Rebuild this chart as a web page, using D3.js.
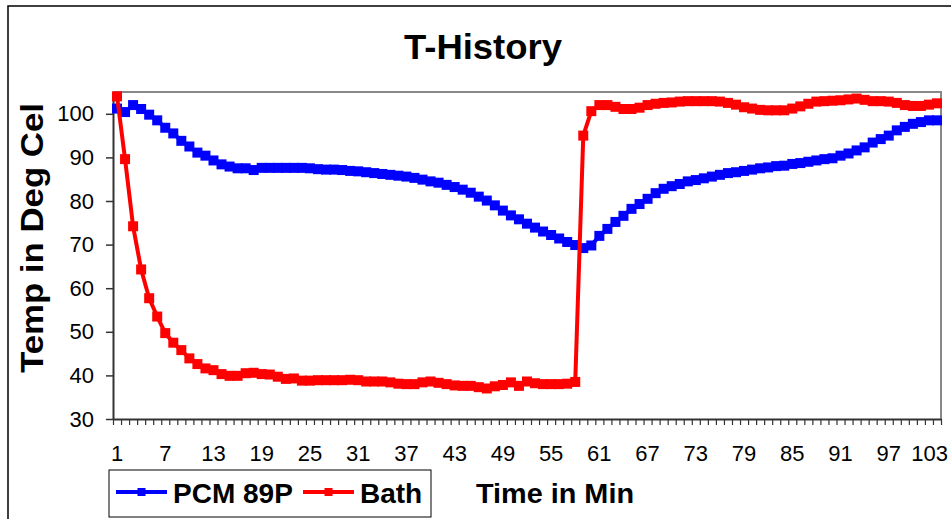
<!DOCTYPE html>
<html>
<head>
<meta charset="utf-8">
<script src="https://cdn.jsdelivr.net/npm/d3@7"></script>
<style>
  body { margin: 0; background: #fff; }
  text { font-family: "Liberation Sans", Arial, sans-serif; }
</style>
</head>
<body>
<div id="chart"></div>
<script>
// minutes 1..103
const minutes = d3.range(1, 104)

const pcm89p = [
  101.2, 100.4, 102.0, 101.1, 99.8, 98.5, 96.8, 95.5, 93.8, 92.5,
  91.1, 90.4, 89.3, 88.4, 87.9, 87.5, 87.5, 87.1, 87.6, 87.6,
  87.6, 87.6, 87.6, 87.6, 87.5, 87.3, 87.2, 87.2, 87.1, 86.9,
  86.8, 86.6, 86.4, 86.2, 86.0, 85.8, 85.6, 85.3, 84.9, 84.5,
  84.2, 83.7, 83.2, 82.6, 81.9, 81.0, 80.1, 79.0, 77.8, 76.7,
  75.8, 74.8, 73.9, 73.0, 72.2, 71.4, 70.6, 69.9, 69.2, 69.8,
  72.0, 73.6, 75.2, 76.6, 78.2, 79.3, 80.5, 81.8, 82.8, 83.4,
  83.9, 84.5, 84.8, 85.2, 85.6, 86.0, 86.4, 86.6, 86.9, 87.2,
  87.5, 87.7, 88.0, 88.1, 88.5, 88.7, 89.0, 89.3, 89.6, 89.8,
  90.4, 90.9, 91.6, 92.3, 93.4, 94.2, 95.0, 96.2, 97.0, 97.7,
  98.1, 98.5, 98.5
]

const bath = [
  104.0, 89.6, 74.2, 64.3, 57.7, 53.5, 49.7, 47.5, 45.8, 43.9,
  42.6, 41.6, 41.2, 40.3, 39.9, 39.9, 40.5, 40.6, 40.3, 40.2,
  39.7, 39.2, 39.3, 38.8, 38.8, 38.9, 38.9, 38.9, 38.9, 39.0,
  38.9, 38.6, 38.6, 38.6, 38.4, 38.1, 38.0, 38.0, 38.4, 38.6,
  38.3, 38.0, 37.7, 37.6, 37.6, 37.3, 37.0, 37.5, 37.8, 38.4,
  37.6, 38.6, 38.2, 38.0, 38.0, 38.0, 38.1, 38.5, 95.0, 100.6,
  102.0, 102.0, 101.6, 101.1, 101.1, 101.4, 102.0, 102.3, 102.5, 102.6,
  102.8, 102.9, 102.9, 102.9, 102.9, 102.8, 102.5, 102.1, 101.5, 101.2,
  100.9, 100.8, 100.8, 100.8, 101.2, 101.7, 102.3, 102.8, 102.9, 103.0,
  103.1, 103.3, 103.5, 103.2, 102.9, 102.9, 102.8, 102.5, 102.0, 101.8,
  101.8, 102.1, 102.4
]

const yTicks = [30, 40, 50, 60, 70, 80, 90, 100]
const xTickLabels = d3.range(1, 104, 6)

const series = [
  {name: 'PCM 89P', color: '#0000ff', values: pcm89p},
  {name: 'Bath', color: '#ff0000', values: bath}
]

const W = 951, H = 519
const plot = {left: 113, right: 941, top: 92, bottom: 419}

const svg = d3.select('#chart')
  .append('svg')
  .attr('width', W)
  .attr('height', H)

// outer chart frame (runs off the right / bottom edge)
svg.append('rect')
  .attr('x', 8).attr('y', 6)
  .attr('width', 960).attr('height', 530)
  .attr('fill', 'none')
  .attr('stroke', '#000')
  .attr('stroke-width', 1.5)

const x = d3.scaleBand()
  .domain(minutes)
  .range([plot.left, plot.right])

const xEdge = d3.scaleLinear()
  .domain([0.5, 103.5])
  .range([plot.left, plot.right])

const y = d3.scaleLinear()
  .domain([30, 105])
  .range([plot.bottom, plot.top])

// plot area border, top and right in grey
svg.append('path')
  .attr('d', `M${plot.left},${plot.top}H${plot.right}V${plot.bottom}`)
  .attr('fill', 'none')
  .attr('stroke', '#888')
  .attr('stroke-width', 2)

// y axis
const yAxis = svg.append('g')
  .attr('transform', `translate(${plot.left},0)`)
  .call(d3.axisLeft(y).tickValues(yTicks).tickSize(7).tickPadding(12).tickSizeOuter(0))
yAxis.select('.domain').attr('stroke', '#333').attr('stroke-width', 2)
yAxis.selectAll('.tick line').attr('stroke', '#333').attr('stroke-width', 1.5)
yAxis.selectAll('text')
  .style('font-size', '22px')
  .attr('fill', '#000')

// x axis minor ticks at category boundaries
const xMinor = svg.append('g')
  .attr('transform', `translate(0,${plot.bottom})`)
  .call(d3.axisBottom(xEdge).tickValues(d3.range(0.5, 104, 1)).tickSize(6).tickFormat('').tickSizeOuter(0))
xMinor.select('.domain').attr('stroke', '#333').attr('stroke-width', 2)
xMinor.selectAll('.tick line').attr('stroke', '#333').attr('stroke-width', 1.2)

// x labels on category centres
const xLabels = svg.append('g')
  .attr('transform', `translate(0,${plot.bottom})`)
  .call(d3.axisBottom(x).tickValues(xTickLabels).tickSize(0).tickPadding(26))
xLabels.select('.domain').remove()
xLabels.selectAll('text')
  .style('font-size', '22px')
  .attr('fill', '#000')
  .attr('text-anchor', d => d === 103 ? 'end' : 'middle')
  .attr('dx', d => d === 103 ? 11 : 0)

// series
const cx = i => x(minutes[i]) + x.bandwidth() / 2

series.forEach(s => {
  const line = d3.line()
    .x((d, i) => cx(i))
    .y(d => y(d))

  svg.append('path')
    .datum(s.values)
    .attr('fill', 'none')
    .attr('stroke', s.color)
    .attr('stroke-width', 4)
    .attr('stroke-linejoin', 'round')
    .attr('d', line)

  svg.append('g')
    .selectAll('rect')
    .data(s.values)
    .join('rect')
    .attr('x', (d, i) => cx(i) - 5)
    .attr('y', d => y(d) - 5)
    .attr('width', 10)
    .attr('height', 10)
    .attr('fill', s.color)
})

// title and axis titles
svg.append('text')
  .attr('x', 404).attr('y', 59)
  .attr('textLength', 158)
  .attr('lengthAdjust', 'spacingAndGlyphs')
  .style('font-size', '35px')
  .style('font-weight', 'bold')
  .text('T-History')

svg.append('text')
  .attr('transform', 'translate(43,373) rotate(-90)')
  .attr('textLength', 270)
  .attr('lengthAdjust', 'spacingAndGlyphs')
  .style('font-size', '31px')
  .style('font-weight', 'bold')
  .text('Temp in Deg Cel')

svg.append('text')
  .attr('x', 476).attr('y', 503)
  .attr('textLength', 158)
  .attr('lengthAdjust', 'spacingAndGlyphs')
  .style('font-size', '28px')
  .style('font-weight', 'bold')
  .text('Time in Min')

// legend
const legend = svg.append('g')
legend.append('rect')
  .attr('x', 109).attr('y', 470)
  .attr('width', 322).attr('height', 47)
  .attr('fill', '#fff')
  .attr('stroke', '#000')
  .attr('stroke-width', 1)

const legendItems = [
  {x: 116, textX: 173},
  {x: 303, textX: 360}
]

series.forEach((s, i) => {
  const it = legendItems[i]
  legend.append('line')
    .attr('x1', it.x).attr('x2', it.x + 51)
    .attr('y1', 492).attr('y2', 492)
    .attr('stroke', s.color)
    .attr('stroke-width', 4)
  legend.append('rect')
    .attr('x', it.x + 25.5 - 4).attr('y', 488)
    .attr('width', 8).attr('height', 8)
    .attr('fill', s.color)
  legend.append('text')
    .attr('x', it.textX).attr('y', 503)
    .style('font-size', '28px')
    .style('font-weight', 'bold')
    .text(s.name)
})
</script>
</body>
</html>
